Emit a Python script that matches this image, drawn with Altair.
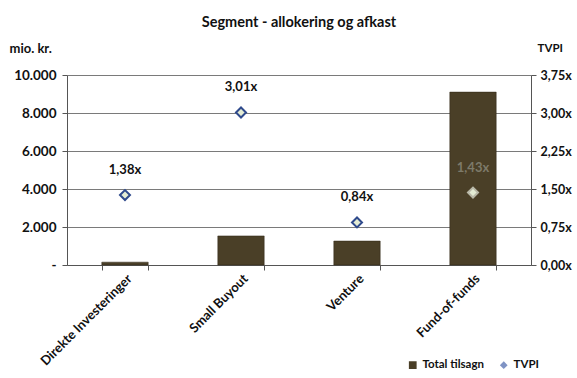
import altair as alt
import pandas as pd

categories = ["Direkte Investeringer", "Small Buyout", "Venture", "Fund-of-funds"]
tilsagn = [150, 1530, 1260, 9100]
tvpi = [1.38, 3.01, 0.84, 1.43]
tvpi_labels = ["1,38x", "3,01x", "0,84x", "1,43x"]
left_ticks = [0, 2000, 4000, 6000, 8000, 10000]
right_ticks = [0, 0.75, 1.5, 2.25, 3.0, 3.75]

bars_df = pd.DataFrame({"cat": categories, "val": tilsagn, "series": "Total tilsagn"})
pts_df = pd.DataFrame({"cat": categories, "tvpi": tvpi, "lab": tvpi_labels, "series": "TVPI"})

FONT = "Lato"
BROWN = "#4a3f27"
BLUE = "#2f4a8c"

xenc = alt.X("cat:N", sort=categories, title=None,
             scale=alt.Scale(paddingInner=0.6, paddingOuter=0.3),
             axis=alt.Axis(labelAngle=-45, labelAlign="right", labelBaseline="top",
                           labelFontSize=13, labelFontWeight="bold", labelColor="#111",
                           tickBand="extent", tickSize=5, tickColor="#555",
                           domainColor="#555", labelPadding=2))

legend_scale_c = alt.Scale(domain=["Total tilsagn", "TVPI"], range=[BROWN, "#7f93c4"])
legend_scale_s = alt.Scale(domain=["Total tilsagn", "TVPI"], range=["square", "diamond"])
leg = alt.Legend(title=None, orient="none", legendX=340, legendY=284, direction="horizontal",
                 labelFont=FONT, labelFontSize=11.5, labelFontWeight="bold", labelColor="#111",
                 symbolSize=60, columnPadding=14, symbolStrokeWidth=0)

bars = alt.Chart(bars_df).mark_bar(stroke="#2e2716", strokeWidth=0.5).encode(
    x=xenc,
    y=alt.Y("val:Q", title="mio. kr.", scale=alt.Scale(domain=[0, 10000], nice=False),
            axis=alt.Axis(values=left_ticks, orient="left", grid=True, gridColor="#7a7a7a",
                          labelExpr="datum.value == 0 ? '-' : replace(format(datum.value, ','), ',', '.')",
                          labelFontSize=13.5, labelFontWeight="bold", labelColor="#111",
                          labelPadding=6,
                          tickSize=5, tickColor="#555", domainColor="#555",
                          titleAngle=0, titleX=-58, titleY=-27, titleAlign="left",
                          titleBaseline="middle",
                          titleFontSize=13, titleFontWeight="bold", titleColor="#111")),
    color=alt.Color("series:N", scale=legend_scale_c, legend=leg),
)

yr = alt.Y("tvpi:Q", title="TVPI", scale=alt.Scale(domain=[0, 3.75], nice=False),
           axis=alt.Axis(values=right_ticks, orient="right", grid=False,
                         labelExpr="replace(format(datum.value, '.2f'), '.', ',') + 'x'",
                         labelFontSize=12.5, labelFontWeight="bold", labelColor="#111",
                         labelPadding=4,
                         tickSize=5, tickColor="#555", domainColor="#555",
                         titleAngle=0, titleX=6, titleY=-27, titleAlign="left",
                         titleBaseline="middle",
                         titleFontSize=11.5, titleFontWeight="bold", titleColor="#111"))

pts = alt.Chart(pts_df).mark_point(filled=True, strokeWidth=2, size=100, opacity=1).encode(
    x=alt.X("cat:N", sort=categories),
    y=yr,
    color=alt.Color("series:N", scale=legend_scale_c, legend=leg),
    shape=alt.Shape("series:N", scale=legend_scale_s, legend=leg),
    fill=alt.value("#e4ecd4"),
    stroke=alt.condition(alt.datum.cat == "Fund-of-funds", alt.value("#b9b8a8"), alt.value(BLUE)),
)

txt = alt.Chart(pts_df).mark_text(dy=-25, fontSize=13, fontWeight="bold", font=FONT).encode(
    x=alt.X("cat:N", sort=categories),
    y=yr,
    text="lab:N",
    color=alt.condition(alt.datum.cat == "Fund-of-funds", alt.value("#7d7a6a"), alt.value("#111")),
)

right = alt.layer(pts, txt)

chart = alt.layer(bars, right).resolve_scale(y="independent").properties(
    width=464, height=190,
    title=alt.TitleParams("Segment - allokering og afkast", fontSize=14.5, fontWeight="bold",
                          font=FONT, color="#111", offset=12),
    autosize=alt.AutoSizeParams(type="none"),
    padding={"left": 67, "top": 75, "right": 46, "bottom": 113},
).configure(font=FONT, background="white").configure_view(stroke=None)

chart.save("out.html", embed_options={"renderer": "svg", "actions": False})
